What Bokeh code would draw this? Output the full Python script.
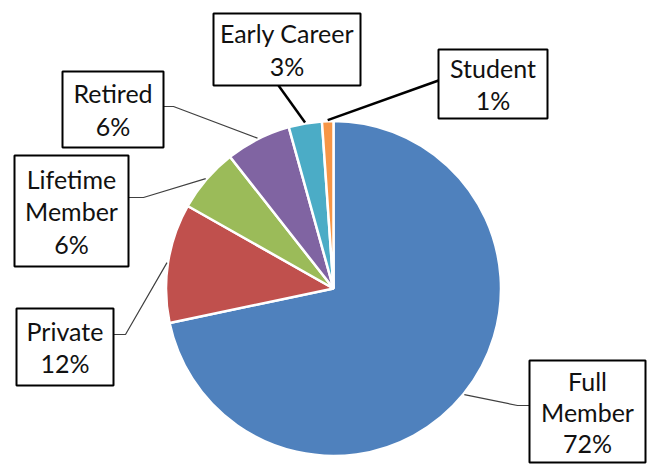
import math
from bokeh.plotting import figure
from bokeh.models import Range1d
from bokeh.core.properties import value
from bokeh.embed import file_html
from bokeh.resources import INLINE

# ---- data ----
categories = ["Full Member", "Private", "Lifetime Member", "Retired", "Early Career", "Student"]
shares = [71.7, 11.5, 6.2, 6.3, 3.2, 1.1]
pct_labels = ["72%", "12%", "6%", "6%", "3%", "1%"]
name_lines = [["Full", "Member"], ["Private"], ["Lifetime", "Member"], ["Retired"], ["Early Career"], ["Student"]]
colors = ["#4F81BD", "#C0504D", "#9BBB59", "#8064A2", "#4BACC6", "#F79646"]

# ---- layout (screen pixel coordinates) ----
H = 468
def fy(sy):
    return H - sy

CX, CY, R = 333, 288, 167.5
# label boxes: left, top, right, bottom
boxes = [(529, 360, 645, 462), (16, 308, 113, 385), (14, 155, 128, 266),
         (62, 71, 163, 147), (213, 13, 360, 85), (438, 49, 547, 118)]
line_sp = [31, 32.5, 32.5, 33, 33, 32]
# leader elbows after the pie point
elbows = [[(517, 405), (529, 405)], [(125, 334), (113, 334)], [(143, 197), (128, 197)],
          [(173, 106), (163, 106)], [(278, 85)], [(438, 80)]]
leader_w = [1.2, 1.2, 1.2, 1.2, 2.5, 2.5]
leader_c = ["#404040", "#404040", "#404040", "#404040", "#000000", "#000000"]

p = figure(width=650, height=468, output_backend="svg", toolbar_location=None,
           x_range=Range1d(0, 650), y_range=Range1d(0, 468),
           x_axis_location=None, y_axis_location=None, min_border=0)
p.grid.visible = False
p.outline_line_color = None
p.background_fill_color = "white"

total = sum(shares)
cum = 0.0
starts, ends, mids = [], [], []
for s in shares:
    c0 = cum / total
    cum += s
    c1 = cum / total
    starts.append(math.pi / 2 - 2 * math.pi * c1)
    ends.append(math.pi / 2 - 2 * math.pi * c0)
    mids.append(math.pi / 2 - math.pi * (c0 + c1))

p.wedge(x=CX, y=fy(CY), radius=R, start_angle=starts, end_angle=ends,
        fill_color=colors, line_color="white", line_width=2.5)

# leader lines
for i in range(len(categories)):
    px = CX + (R + 1) * math.cos(mids[i])
    py = fy(CY) + (R + 1) * math.sin(mids[i])
    xs = [px] + [e[0] for e in elbows[i]]
    ys = [py] + [fy(e[1]) for e in elbows[i]]
    p.line(xs, ys, line_color=leader_c[i], line_width=leader_w[i])

# boxes
p.quad(left=[b[0] for b in boxes], right=[b[2] for b in boxes],
       top=[fy(b[1]) for b in boxes], bottom=[fy(b[3]) for b in boxes],
       fill_color="white", line_color="black", line_width=2)

# texts
tx, ty, tt = [], [], []
for i, b in enumerate(boxes):
    lines = name_lines[i] + [pct_labels[i]]
    cxb = (b[0] + b[2]) / 2
    cyb = (b[1] + b[3]) / 2
    n = len(lines)
    for k, t in enumerate(lines):
        sy = cyb + (k - (n - 1) / 2) * line_sp[i]
        tx.append(cxb)
        ty.append(fy(sy))
        tt.append(t)
p.text(x=tx, y=ty, text=tt, text_align="center", text_baseline="middle",
       text_font=value("Lato"), text_font_size="25px", text_color="#111111")

open("out.html", "w").write(file_html(p, INLINE))
